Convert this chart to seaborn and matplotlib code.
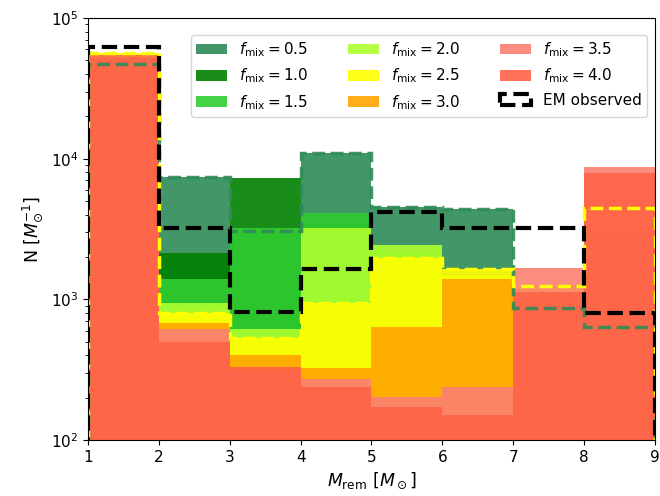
import numpy as np
import seaborn as sns
import matplotlib.pyplot as plt
from matplotlib.patches import Patch

# bins of the remnant mass histogram
edges = [1, 2, 3, 4, 5, 6, 7, 8, 9]
centers = [1.5, 2.5, 3.5, 4.5, 5.5, 6.5, 7.5, 8.5]

fmix = ['0.5', '1.0', '1.5', '2.0', '2.5', '3.0', '3.5', '4.0']
colors = ['seagreen', 'green', 'limegreen', 'greenyellow', 'yellow', 'orange', 'salmon', 'tomato']

n_05 = [4.7e4, 7.4e3, 3.06e3, 1.10e4, 4.5e3, 4.4e3, 870, 640]
n_10 = [4.5e4, 2.13e3, 7.3e3, 3.5e3, 2.0e3, 1.2e3, 900, 700]
n_15 = [4.8e4, 1.4e3, 3.2e3, 4.1e3, 2.2e3, 1.3e3, 1.0e3, 800]
n_20 = [5.0e4, 940, 615, 3.2e3, 2.43e3, 1.5e3, 1.1e3, 2.0e3]
n_25 = [5.65e4, 800, 530, 940, 1.97e3, 1.64e3, 1.24e3, 4.46e3]
n_30 = [5.0e4, 680, 400, 325, 636, 1.4e3, 1.0e3, 3.0e3]
n_35 = [5.2e4, 615, 310, 271, 202, 238, 1.67e3, 8.7e3]
n_40 = [5.5e4, 497, 330, 238, 172, 150, 1.13e3, 7.9e3]
n_em = [6.2e4, 3.21e3, 813, 1.64e3, 4.15e3, 3.21e3, 3.21e3, 800]

series = [n_05, n_10, n_15, n_20, n_25, n_30, n_35, n_40]

fig = plt.figure(figsize=(6.6, 4.96), dpi=100)
ax = fig.add_axes([0.1333, 0.1129, 0.8591, 0.8508])
ax.set_yscale('log')

for vals, c in zip(series, colors):
    sns.histplot(x=centers, weights=vals, bins=edges, element='step', fill=True,
                 color=c, alpha=0.9, linewidth=0, ax=ax)

# dashed outlines on top
ax.hist(centers, bins=edges, weights=n_05, histtype='step', ls='--', lw=2.5, color='seagreen', alpha=0.9)
ax.hist(centers, bins=edges, weights=n_25, histtype='step', ls='--', lw=2.5, color='yellow')
ax.hist(centers, bins=edges, weights=n_em, histtype='step', ls='--', lw=3, color='k')

ax.set_xlim(1, 9)
ax.set_ylim(1e2, 1e5)
ax.set_xlabel(r'$M_{\rm rem}$ [$M_\odot$]', fontsize=12.5)
ax.set_ylabel(r'N [$M_{\odot}^{-1}$]', fontsize=12.5)
ax.tick_params(labelsize=11)

handles = [Patch(facecolor=c, alpha=0.9, label=r'$f_{\rm mix} = %s$' % f) for f, c in zip(fmix, colors)]
handles.append(Patch(fill=False, edgecolor='k', ls='--', lw=3, label='EM observed'))
ax.legend(handles=handles, ncol=3, fontsize=11, loc='upper right', columnspacing=2.6,
          borderpad=0.35, bbox_to_anchor=(0.986, 0.96), borderaxespad=0)

plt.savefig('out.png', dpi=100)
